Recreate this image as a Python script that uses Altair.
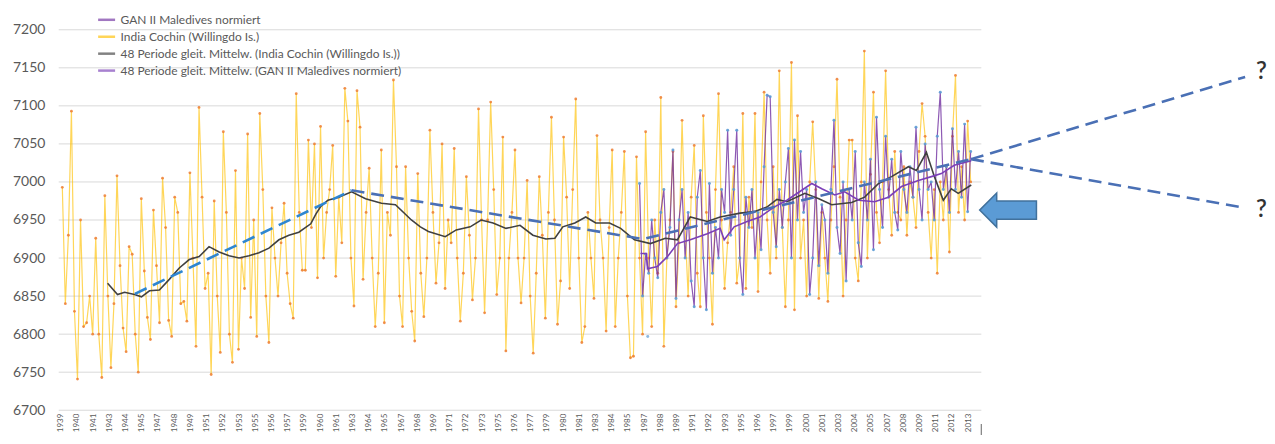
import altair as alt
import pandas as pd

FONT = "Lato"
START = 1939

# ---------------- data ----------------
# India Cochin (Willingdo Is.), four readings per year (quarters)
cochin_1939_1963 = [
    6993, 6840, 6930, 7093,  6830, 6741, 6950, 6810,  6815, 6850, 6800, 6926,
    6800, 6743, 6982, 6850,  6756, 6840, 7008, 6890,  6808, 6777, 6915, 6905,
    6800, 6750, 6978, 6883,  6822, 6793, 6963, 6890,  6815, 7005, 6940, 6818,
    6797, 6980, 6960, 6840,  6843, 6817, 7012, 6900,  6784, 7098, 6980, 6860,
    6880, 6747, 6975, 6850,  6776, 7066, 6960, 6800,  6763, 7015, 6780, 6900,
    6860, 7063, 6822, 6950,  6797, 7090, 6990, 6850,  6789, 6966, 6900, 6850,
    6920, 6972, 6880, 6840,  6821, 7116, 6960, 6884,  6884, 7055, 6940, 7050,
    6874, 7073, 6900, 6960,  6990, 7048, 6876, 6980,  6920, 7123, 7080, 6900,
    6837, 7120, 7072, 6872,
]
cochin_1964_1988 = [
    6960, 7018, 6900, 6810,  6880, 7042, 6815, 6960,  6930, 7134, 7020, 6850,
    6810, 7020, 6900, 6830,  6791, 7011, 6880, 6823,  6900, 7068, 6960, 6867,
    6920, 7050, 6860, 6950,  6920, 7044, 6900, 6817,  6880, 7007, 6930, 6845,
    6900, 7096, 6950, 6828,  6950, 7105, 6990, 6852,  6900, 7059, 6778, 6900,
    6960, 7042, 6900, 6841,  6900, 7002, 6850, 6775,  6880, 7007, 6930, 6821,
    6960, 7085, 6950, 6813,  6870, 7059, 6980, 6860,  6990, 7109, 6900, 6789,
    6810, 6960, 6900, 6847,  7061, 6950, 6900, 6804,  6940, 7042, 6810, 6900,
    6960, 7040, 6850, 6769,  6771, 7033, 6900, 6800,  7066, 6900, 6810, 6950,
    6880, 7111, 6784, 6900,
]
cochin_1989_2013 = [
    6950, 7040, 6836, 6920,  7081, 6940, 6850, 6980,  7048, 6880, 6836, 7087,
    6960, 6900, 6813, 6990,  7116, 6950, 6860, 6920,  6960, 7020, 6867, 6900,
    7090, 6860, 6980, 6940,  7090, 6856, 7000, 7118,  6950, 6880, 7020, 6900,
    7146, 6940, 6836, 6950,  7157, 6832, 7087, 6900,  6950, 6850, 7000, 7079,
    6990, 6847, 6960, 6900,  6843, 6950, 7020, 7135,  6980, 6850, 6950, 7055,
    7055, 6900, 6870, 7000,  7172, 6900, 7010, 7118,  6960, 6920, 7000, 7146,
    6990, 6930, 7040, 6960,  6950, 7020, 6930, 7000,  6980, 6940, 7040, 7103,
    7060, 6960, 6900, 6990,  6880, 7000, 6950, 7020,  6908, 7060, 7140, 6960,
    7020, 6950, 7080, 7000,
]

# GAN II Maledives normiert, quarterly from mid-1986
gan_first_year = 1986.5
gan_values = [
    6998, 6850,
    6905, 6880, 6950, 6900,  6874, 6960, 6990, 6900,  6940, 7042, 6847, 6950,
    6990, 6900, 6960, 6870,  6836, 6980, 7015, 6900,  6832, 6998, 6880, 6940,
    6900, 6990, 6960, 7068,  6930, 6990, 7068, 6900,  6852, 6980, 6940, 6990,
    6900, 6960, 6911, 7020,  7114, 7112, 6960, 6915,  6990, 6940, 7000, 7044,
    6900, 7055, 6950, 7040,  6960, 6990, 6852, 6900,  7000, 6890, 6970, 6950,
    6880, 6990, 7081, 6940,  6906, 7000, 6870, 6990,  6950, 7040, 6920, 6889,
    7000, 6950, 7030, 6911,  7085, 6990, 6940, 7060,  6980, 7030, 6960, 6937,
    7040, 6990, 6960, 7020,  6980, 7072, 6990, 6950,  7050, 6990, 7000, 6950,
    7060, 7118, 6990, 7020,  6960, 7070, 6990, 7040,  6980, 7076, 6961, 7040,
]
gan_isolated_year = [1987.3]
gan_isolated_value = [6797]

# 48 Periode gleit. Mittelw. (India Cochin)
ma_cochin_year = [
    1942.85, 1943.67, 1944.25, 1945.07, 1945.64, 1946.3, 1947.11, 1947.93, 1948.75,
    1949.57, 1950.39, 1951.2, 1952.03, 1952.85, 1953.67, 1954.49, 1955.31, 1956.13,
    1956.95, 1957.77, 1958.59, 1959.57, 1960.0, 1960.4, 1960.98, 1961.87, 1962.93,
    1964.08, 1965.39, 1966.54, 1967.85, 1968.59, 1969.25, 1970.64, 1971.54, 1972.69,
    1973.59, 1974.57, 1975.64, 1976.79, 1977.85, 1978.92, 1979.66, 1980.31, 1981.3,
    1982.2, 1983.02, 1984.16, 1985.07, 1986.21, 1987.52, 1988.75, 1989.74, 1990.8,
    1992.2, 1993.26, 1994.9, 1996.05, 1997.11, 1997.93, 1998.75, 2000.23, 2001.38,
    2002.44, 2004.08, 2005.15, 2006.3, 2007.36, 2008.75, 2009.41, 2010.23, 2010.89,
    2011.62, 2012.28, 2012.85, 2013.92,
]
ma_cochin_value = [
    6867, 6852, 6855, 6852, 6849, 6857, 6858, 6872, 6887,
    6898, 6902, 6915, 6908, 6903, 6900, 6903, 6907, 6913,
    6924, 6930, 6934, 6945, 6958, 6968, 6976, 6980, 6987,
    6978, 6972, 6970, 6950, 6941, 6935, 6928, 6937, 6941,
    6950, 6946, 6939, 6943, 6930, 6925, 6926, 6941, 6946,
    6954, 6946, 6946, 6939, 6924, 6919, 6926, 6924, 6954,
    6948, 6954, 6959, 6961, 6967, 6977, 6974, 6985, 6978,
    6970, 6973, 6980, 6998, 7007, 7020, 7015, 7039, 7007,
    6976, 6991, 6985, 6996,
]

# 48 Periode gleit. Mittelw. (GAN II Maledives normiert)
ma_gan_year = [
    1986.7, 1987.2, 1987.28, 1988.1, 1988.93, 1989.74, 1990.8, 1992.2, 1993.26,
    1993.59, 1994.41, 1995.48, 1996.54, 1997.69, 1998.75, 2000.8, 2001.62, 2002.69,
    2003.51, 2004.66, 2005.97, 2007.11, 2008.18, 2009.57, 2010.64, 2011.46, 2012.52,
    2013.92,
]
ma_gan_value = [
    6906, 6906, 6886, 6889, 6902, 6919, 6924, 6932, 6939,
    6924, 6941, 6948, 6954, 6967, 6976, 6998, 6991, 6983,
    6987, 6976, 6974, 6980, 6994, 7002, 7007, 7011, 7022,
    7028,
]

# hand-drawn trend lines, projections, markers
trend1_year = [1945.1, 1962.93]
trend1_value = [6853, 6989]
trend2_year = [1962.93, 1986.9, 2013.9]
trend2_value = [6989, 6925, 7030]
proj_up_year = [2013.9, 2036.46]
proj_up_value = [7030, 7138]
proj_dn_year = [2013.9, 2036.46]
proj_dn_value = [7030, 6966]
qmark_year = [2037.8, 2037.8]
qmark_value = [7144, 6963]
qmark_text = ["?", "?"]
arrow_year = [2016.95]
arrow_value = [6963]

y_ticks = list(range(6700, 7201, 50))
grid_from_year = 1938.83
grid_to_year = 2014.75
axis_end_tick_year = [2014.75]
axis_end_tick_from = [6682]
axis_end_tick_to = [6662]
x_label_months = list(range(0, 900, 16))

series_names = [
    "GAN II Maledives normiert",
    "India Cochin (Willingdo Is.)",
    "48 Periode gleit. Mittelw. (India Cochin (Willingdo Is.))",
    "48 Periode gleit. Mittelw. (GAN II Maledives normiert)",
]
series_colors = ["#7030A0", "#FFC000", "#404040", "#7B3FB8"]

# ---------------- build tables ----------------
def months(year):
    return (year - START) * 12.0

cochin_all = cochin_1939_1963 + cochin_1964_1988 + cochin_1989_2013
df_cochin = pd.DataFrame({
    "m": [months(START + i / 4 + 0.125) for i in range(len(cochin_all))],
    "v": cochin_all,
    "series": series_names[1],
})
df_gan = pd.DataFrame({
    "m": [months(gan_first_year + i / 4 + 0.125) for i in range(len(gan_values))],
    "v": gan_values,
    "series": series_names[0],
})
df_gan_iso = pd.DataFrame({"m": [months(y) for y in gan_isolated_year], "v": gan_isolated_value})
df_ma_c = pd.DataFrame({"m": [months(y) for y in ma_cochin_year], "v": ma_cochin_value,
                        "series": series_names[2]})
df_ma_g = pd.DataFrame({"m": [months(y) for y in ma_gan_year], "v": ma_gan_value,
                        "series": series_names[3]})
df_t1 = pd.DataFrame({"m": [months(y) for y in trend1_year], "v": trend1_value})
df_t2 = pd.DataFrame({"m": [months(y) for y in trend2_year], "v": trend2_value})
df_pu = pd.DataFrame({"m": [months(y) for y in proj_up_year], "v": proj_up_value})
df_pd = pd.DataFrame({"m": [months(y) for y in proj_dn_year], "v": proj_dn_value})
df_q = pd.DataFrame({"m": [months(y) for y in qmark_year], "v": qmark_value, "t": qmark_text})
df_arrow = pd.DataFrame({"m": [months(y) for y in arrow_year], "v": arrow_value})
df_grid = pd.DataFrame({"v": y_ticks, "m": months(grid_from_year), "m2": months(grid_to_year)})
df_endtick = pd.DataFrame({"m": [months(y) for y in axis_end_tick_year],
                           "v": axis_end_tick_from, "v2": axis_end_tick_to})

# ---------------- scales / axes ----------------
PX_PER_MONTH = 1.0167
PLOT_W, PLOT_H = 1191, 382
MLO = -2 / PX_PER_MONTH
MHI = MLO + PLOT_W / PX_PER_MONTH

xscale = alt.Scale(domain=[MLO, MHI], nice=False, zero=False)
yscale = alt.Scale(domain=[6700, 7200], nice=False, zero=False)
xaxis = alt.Axis(values=x_label_months, labelExpr="floor(1939 + datum.value / 12)",
                 labelAngle=270, labelFontSize=8, labelColor="#595959", labelFont=FONT,
                 grid=False, domain=False, ticks=False, labelPadding=3,
                 labelOverlap=False, labelFlush=False, title=None)
yaxis = alt.Axis(values=y_ticks, format="d", labelFontSize=14, labelColor="#595959",
                 labelFont=FONT, grid=False, domain=False, ticks=False, labelPadding=14,
                 title=None)

X = alt.X("m:Q", scale=xscale, axis=xaxis)
Y = alt.Y("v:Q", scale=yscale, axis=yaxis)

legend = alt.Legend(orient="none", legendX=38, legendY=-20, title=None,
                    symbolType="stroke", symbolSize=290, symbolStrokeWidth=2.5,
                    labelFontSize=12, labelColor="#595959", labelFont=FONT,
                    labelLimit=500, rowPadding=1, padding=0, direction="vertical")
color = alt.Color("series:N", scale=alt.Scale(domain=series_names, range=series_colors),
                  legend=legend)

# ---------------- layers ----------------
grid = alt.Chart(df_grid).mark_rule(color="#D9D9D9", strokeWidth=1).encode(
    x=X, x2="m2:Q", y=Y)
endtick = alt.Chart(df_endtick).mark_rule(color="#7F7F7F", strokeWidth=1.2).encode(
    x=X, y=Y, y2="v2:Q")

cochin_line = alt.Chart(df_cochin).mark_line(strokeWidth=1.2, opacity=0.65).encode(
    x=X, y=Y, color=color)
cochin_pts = alt.Chart(df_cochin).mark_circle(size=8, color="#ED7D31", opacity=0.85).encode(
    x=X, y=Y)

gan_line = alt.Chart(df_gan).mark_line(strokeWidth=1.2, opacity=0.8).encode(
    x=X, y=Y, color=color)
gan_pts = alt.Chart(df_gan).mark_circle(size=9, color="#5B9BD5", opacity=0.9).encode(
    x=X, y=Y)
gan_iso = alt.Chart(df_gan_iso).mark_circle(size=9, color="#5B9BD5").encode(x=X, y=Y)

ma_c = alt.Chart(df_ma_c).mark_line(strokeWidth=1.6).encode(x=X, y=Y, color=color)
ma_g = alt.Chart(df_ma_g).mark_line(strokeWidth=1.6).encode(x=X, y=Y, color=color)

dash = [13, 7]
t1 = alt.Chart(df_t1).mark_line(color="#2E86D1", strokeWidth=2.6, strokeDash=dash).encode(x=X, y=Y)
t2 = alt.Chart(df_t2).mark_line(color="#4A70B5", strokeWidth=2.6, strokeDash=dash).encode(x=X, y=Y)
pu = alt.Chart(df_pu).mark_line(color="#4A70B5", strokeWidth=2.6, strokeDash=dash).encode(x=X, y=Y)
pdn = alt.Chart(df_pd).mark_line(color="#4A70B5", strokeWidth=2.6, strokeDash=dash).encode(x=X, y=Y)

arrow_path = "M -1 0 L -0.4 -0.6 L -0.4 -0.32 L 1 -0.32 L 1 0.32 L -0.4 0.32 L -0.4 0.6 Z"
arrow = alt.Chart(df_arrow).mark_point(shape=arrow_path, size=3249, filled=True,
                                       fill="#5B9BD5", stroke="#41719C", strokeWidth=1.5,
                                       opacity=1).encode(x=X, y=Y)

qmarks = alt.Chart(df_q).mark_text(fontSize=24, color="#333333", font=FONT,
                                   fontWeight=600, align="center",
                                   baseline="middle").encode(x=X, y=Y, text="t:N")

chart = alt.layer(
    grid, endtick, cochin_line, cochin_pts, gan_line, gan_pts, gan_iso, ma_c, ma_g,
    t1, t2, pu, pdn, arrow, qmarks,
).properties(
    width=PLOT_W, height=PLOT_H,
    autosize=alt.AutoSizeParams(type="none"),
    padding={"left": 51, "top": 21, "right": 22, "bottom": 24},
    background="white",
).configure_view(stroke=None)

chart.save("out.html", embed_options={"renderer": "svg", "actions": False})
